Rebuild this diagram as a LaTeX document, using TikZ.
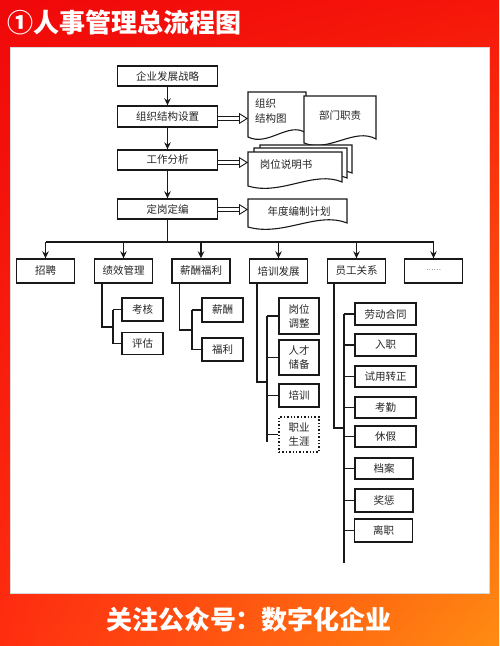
\documentclass[tikz,border=0pt]{standalone}
\usepackage{fontspec}
\newfontfamily\cjk{Noto Sans CJK SC}
\usetikzlibrary{arrows.meta,calc,shadings}
\definecolor{bgUL}{RGB}{240,8,10}
\definecolor{bgUR}{RGB}{246,22,10}
\definecolor{bgLL}{RGB}{255,45,16}
\definecolor{bgLR}{RGB}{255,140,18}
\begin{document}
\begin{tikzpicture}[x=1pt,y=-1pt,
  ln/.style={line width=1.4pt, draw=black!90},
  arr/.style={ln, -{Stealth[length=7pt,width=6.5pt]}},
  dbl/.style={double, double distance=3.6pt, line width=0.9pt, draw=black!90,
     -{Triangle[open,length=9pt,width=11pt]}},
  box/.style={draw=black!90, line width=1.4pt, fill=white, inner sep=0pt,
     font=\cjk\fontsize{10.5}{14}\selectfont, text=black!85, align=center},
  doc/.style={draw=black!90, line width=1.1pt, fill=white},
  dtext/.style={inner sep=0pt, font=\cjk\fontsize{10.5}{15}\selectfont, text=black!85}]
\useasboundingbox (0,0) rectangle (499,646);
% background
\shade[upper left=bgUL, upper right=bgUR, lower left=bgLL, lower right=bgLR] (0,0) rectangle (499,646);
\filldraw[fill=white, draw=black!15, line width=0.5pt] (10,47) rectangle (489,593);
\node[font=\cjk\bfseries\fontsize{26}{30}\selectfont, text=white, anchor=west, inner sep=0pt] (title) at (7,23) {①人事管理总流程图};
\node[font=\cjk\bfseries\fontsize{26}{30}\selectfont, text=white, inner sep=0pt] (foot) at (249,620) {关注公众号：数字化企业};

% main column
\node[box, minimum width=100pt, minimum height=20pt] (s1) at (167.5,76) {企业发展战略};
\node[box, minimum width=100pt, minimum height=21pt] (s2) at (167.5,116.5) {组织结构设置};
\node[box, minimum width=100pt, minimum height=20pt] (s3) at (167.5,160) {工作分析};
\node[box, minimum width=100pt, minimum height=20pt] (s4) at (167.5,209) {定岗定编};
\draw[arr] (s1) -- (s2);
\draw[arr] (s2) -- (s3);
\draw[arr] (s3) -- (s4);

% documents
\newcommand\mydoc[4]{%
  \filldraw[doc] (#1,#2) -- (#3,#2) -- (#3,{#4-4})
    .. controls ({#1+0.7*(#3-#1)},{#4-16}) and ({#1+0.35*(#3-#1)},{#4+10}) .. (#1,#4) -- cycle;}
\mydoc{248}{92}{306}{137}
\mydoc{304}{96}{376}{143}
\mydoc{260}{145}{352}{177}
\mydoc{254}{148}{347}{182}
\mydoc{248}{152}{342}{186}
\mydoc{248}{199}{347}{227}
\node[dtext, anchor=west, align=left] (d1) at (255,111) {组织\\结构图};
\node[dtext] (d2) at (340,115) {部门职责};
\node[dtext] (d3) at (286,165) {岗位说明书};
\node[dtext] (d4) at (299,211) {年度编制计划};
\coordinate (d1w) at (248,118.5);
\coordinate (d3w) at (248,162.5);
\coordinate (d4w) at (248,209.5);
\draw[dbl] (s2.east |- d1w) -- (d1w);
\draw[dbl] (s3.east |- d3w) -- (d3w);
\draw[dbl] (s4.east |- d4w) -- (d4w);

% second row
\node[box, minimum width=58pt, minimum height=24pt] (r1) at (45.5,271) {招聘};
\node[box, minimum width=58pt, minimum height=24pt] (r2) at (123.5,271) {绩效管理};
\node[box, minimum width=58pt, minimum height=24pt] (r3) at (201,271) {薪酬福利};
\node[box, minimum width=58pt, minimum height=24pt] (r4) at (278.5,271) {培训发展};
\node[box, minimum width=58pt, minimum height=24pt] (r5) at (356.5,271) {员工关系};
\node[box, minimum width=58pt, minimum height=24pt] (r6) at (433.5,271) {\raisebox{2pt}{\fontsize{7}{8}\selectfont ……}};
\coordinate (bus) at (167.5,242);
\draw[ln] (s4) -- (bus);
\draw[ln] (r1.north |- bus) -- (r6.north |- bus);
\foreach \r in {r1,r2,r3,r4,r5,r6} \draw[arr] (\r.north |- bus) -- (\r.north);

% 绩效管理
\node[box, minimum width=41pt, minimum height=23pt] (c21) at (142.5,309.5) {考核};
\node[box, minimum width=41pt, minimum height=22pt] (c22) at (142.5,343.5) {评估};
\coordinate (j2) at (113,327);
\draw[ln] ([xshift=8pt]r2.south west) |- (j2);
\draw[ln] (c21.west -| j2) -- (c22.west -| j2);
\foreach \c in {c21,c22} \draw[ln] (\c.west -| j2) -- (\c.west);

% 薪酬福利
\node[box, minimum width=41pt, minimum height=24pt] (c31) at (222.5,310) {薪酬};
\node[box, minimum width=41pt, minimum height=23pt] (c32) at (222.5,349.5) {福利};
\coordinate (j3) at (192,330);
\draw[ln] ([xshift=8pt]r3.south west) |- (j3);
\draw[ln] (c31.west -| j3) -- (c32.west -| j3);
\foreach \c in {c31,c32} \draw[ln] (\c.west -| j3) -- (\c.west);

% 培训发展
\node[box, minimum width=40pt, minimum height=36pt] (c41) at (299,316) {岗位\\调整};
\node[box, minimum width=40pt, minimum height=35pt] (c42) at (299,357.5) {人才\\储备};
\node[box, minimum width=40pt, minimum height=23pt] (c43) at (299,395.5) {培训};
\node[box, dotted, line width=1.1pt, minimum width=40pt, minimum height=35pt] (c44) at (299,434.5) {职业\\生涯};
\coordinate (j4) at (267,382);
\coordinate (t4) at (267,442);
\draw[ln] ([xshift=8pt]r4.south west) |- (j4);
\draw[ln] (c41.west -| j4) -- (t4);
\foreach \c in {c41,c42,c43,c44} \draw[ln] (\c.west -| j4) -- (\c.west);

% 员工关系
\node[box, minimum width=61pt, minimum height=22pt] (c51) at (385.5,314) {劳动合同};
\node[box, minimum width=61pt, minimum height=22pt] (c52) at (385.5,345) {入职};
\node[box, minimum width=61pt, minimum height=21pt] (c53) at (385.5,376.5) {试用转正};
\node[box, minimum width=61pt, minimum height=21pt] (c54) at (385.5,407.5) {考勤};
\node[box, minimum width=61pt, minimum height=21pt] (c55) at (385.5,436.5) {休假};
\node[box, minimum width=58pt, minimum height=21pt] (c56) at (384,468.5) {档案};
\node[box, minimum width=58pt, minimum height=23pt] (c57) at (384,500.5) {奖惩};
\node[box, minimum width=58pt, minimum height=23pt] (c58) at (383.5,530.5) {离职};
\coordinate (j5) at (344,428);
\coordinate (t5) at (344,563);
\draw[ln] ([xshift=7pt]r5.south west) |- (j5);
\draw[ln] (c51.west -| j5) -- (t5);
\foreach \c in {c51,c52,c53,c54,c55,c56,c57,c58} \draw[ln] (\c.west -| j5) -- (\c.west);
\end{tikzpicture}
\end{document}
